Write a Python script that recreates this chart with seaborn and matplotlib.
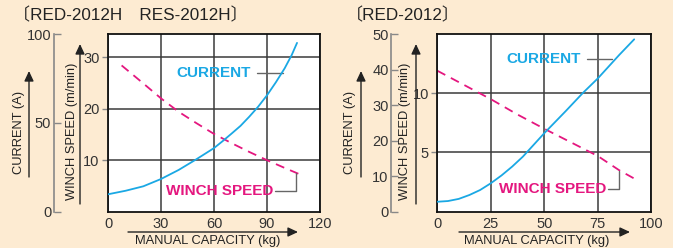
import numpy as np
import pandas as pd
import matplotlib.pyplot as plt
import seaborn as sns

# left chart: RED-2012H / RES-2012H
h_cur_kg = [0, 10, 20, 30, 40, 50, 60, 65, 70, 75, 80, 85, 90, 95, 100, 104, 107]
h_cur_a = [9.8, 11.8, 14.3, 18.4, 23.5, 29.5, 35.8, 39.8, 44, 48.3, 53.5, 59.1, 65.5, 72.8, 80.7, 88.2, 95]
h_spd_kg = [7.7, 20, 30, 40, 50, 60, 70, 80, 90, 100, 109.6]
h_spd = [28.4, 24.9, 22.0, 19.4, 17.2, 15.1, 13.3, 11.6, 10.0, 8.5, 7.1]

# right chart: RED-2012
r_cur_kg = [0, 5, 10, 15, 20, 25, 30, 35, 40, 50, 60, 68, 75, 85, 92]
r_cur_a = [2.8, 3.0, 3.6, 4.7, 6.1, 8.0, 10.2, 12.7, 15.5, 22.1, 28.3, 33.4, 37.5, 44.1, 48.5]
r_spd_kg = [0, 12.5, 25, 37.5, 50, 62.5, 75, 85, 93]
r_spd = [11.9, 10.7, 9.5, 8.2, 7.0, 5.85, 4.7, 3.5, 2.7]

titles = ['〔RED-2012H\u3000RES-2012H〕', '〔RED-2012〕']

CYAN = '#1aa8e4'
MAGENTA = '#e4177f'
BG = '#fdebd2'
W, H = 673, 248

sns.set_style('white')
plt.rcParams['font.family'] = ['Liberation Sans', 'Noto Sans CJK JP', 'DejaVu Sans']

fig = plt.figure(figsize=(W / 100, H / 100), dpi=100, facecolor=BG)


def px(x, y):
    # pixel position measured from top-left -> figure fraction
    return x / W, (H - y) / H


def arrow(x0, y0, x1, y1):
    fig.add_artist(plt.matplotlib.patches.FancyArrowPatch(
        px(x0, y0), px(x1, y1), transform=fig.transFigure,
        arrowstyle='-|>,head_length=6,head_width=2.8', color='#222', lw=1.0,
        shrinkA=0, shrinkB=0))


def panel(x0, x1, cur_out, kg_max, kg_ticks, spd_max, spd_ticks, cur_max, cur_ticks,
          cur_kg, cur_a, spd_kg, spd):
    top, bot = 34, 211.7
    l, b = px(x0, bot)
    ax = fig.add_axes([l, b, (x1 - x0) / W, (bot - top) / H])
    ax.set_facecolor('white')
    sns.lineplot(x=spd_kg, y=spd, ax=ax, color=MAGENTA, lw=1.3)
    ax.lines[-1].set_dashes([5, 3.5])
    ax.set_xlim(0, kg_max)
    ax.set_ylim(0, spd_max)
    ax.set_xticks(kg_ticks)
    ax.set_yticks(spd_ticks)
    ax.grid(True, color='#3a3a3a', lw=1.1)
    ax.set_axisbelow(True)
    for s in ax.spines.values():
        s.set_color('#111')
        s.set_linewidth(1.3)
    ax.tick_params(axis='y', direction='out', length=4, color='#888', width=1,
                   labelsize=10.5, pad=2, labelcolor='#333')
    ax.tick_params(axis='x', length=0, labelsize=10.5, pad=4, labelcolor='#333')

    ax2 = ax.twinx()
    sns.lineplot(x=cur_kg, y=cur_a, ax=ax2, color=CYAN, lw=1.3)
    ax2.set_ylim(0, cur_max)
    ax2.set_yticks(cur_ticks)
    ax2.yaxis.set_ticks_position('left')
    for s in ['top', 'right', 'bottom']:
        ax2.spines[s].set_visible(False)
    ax2.spines['left'].set_position(('outward', cur_out))
    ax2.spines['left'].set_color('#888')
    ax2.spines['left'].set_linewidth(1.2)
    ax2.tick_params(axis='y', direction='in', length=5, color='#888', width=1,
                    labelsize=10.5, pad=2, labelcolor='#333')
    ax2.set_ylabel('')
    ax.set_ylabel('')
    return ax


# left panel
ax = panel(108, 320, 54 * 0.72, 120, [0, 30, 60, 90, 120], 34.5, [10, 20, 30],
           100, [0, 50, 100], h_cur_kg, h_cur_a, h_spd_kg, h_spd)
ax.text(38.5, 26.9, 'CURRENT', color=CYAN, fontsize=11, fontweight='bold', va='center')
ax.plot([84.3, 99], [26.9, 26.9], color='#666', lw=1)
ax.text(32.7, 4.0, 'WINCH SPEED', color=MAGENTA, fontsize=11, fontweight='bold', va='center')
ax.plot([94.5, 106.4, 106.4], [4.0, 4.0, 7.6], color='#666', lw=1)

# right panel
ax = panel(437.3, 651.3, 46 * 0.72, 100, [0, 25, 50, 75, 100], 15, [5, 10],
           50, [0, 10, 20, 30, 40, 50], r_cur_kg, r_cur_a, r_spd_kg, r_spd)
ax.text(32.2, 12.86, 'CURRENT', color=CYAN, fontsize=11, fontweight='bold', va='center')
ax.plot([70, 81.8], [12.86, 12.86], color='#666', lw=1)
ax.text(28.7, 1.88, 'WINCH SPEED', color=MAGENTA, fontsize=11, fontweight='bold', va='center')
ax.plot([79.8, 84.9, 84.9], [1.88, 1.88, 3.41], color='#666', lw=1)

# titles and axis captions with arrows
for (tx, title, cx, ca, wx, wa, mx, m0, m1) in [
        (13, titles[0], 19, 29, 72, 80, 208, 128, 298),
        (346, titles[1], 350, 361, 405, 416, 537, 459, 630)]:
    fig.text(*px(tx, 15), title, fontsize=12.3, color='#222', va='center', ha='left')
    fig.text(*px(cx, 132), 'CURRENT (A)', fontsize=9.3, color='#222', rotation=90,
             ha='center', va='center')
    arrow(ca, 177, ca, 71)
    fig.text(*px(wx, 131), 'WINCH SPEED (m/min)', fontsize=9.3, color='#222', rotation=90,
             ha='center', va='center')
    arrow(wa, 204, wa, 44)
    fig.text(*px(mx, 241), 'MANUAL CAPACITY (kg)', fontsize=9.3, color='#222',
             ha='center', va='center')
    arrow(m0, 232, m1, 232)

fig.savefig('out.png', dpi=100, facecolor=BG)
